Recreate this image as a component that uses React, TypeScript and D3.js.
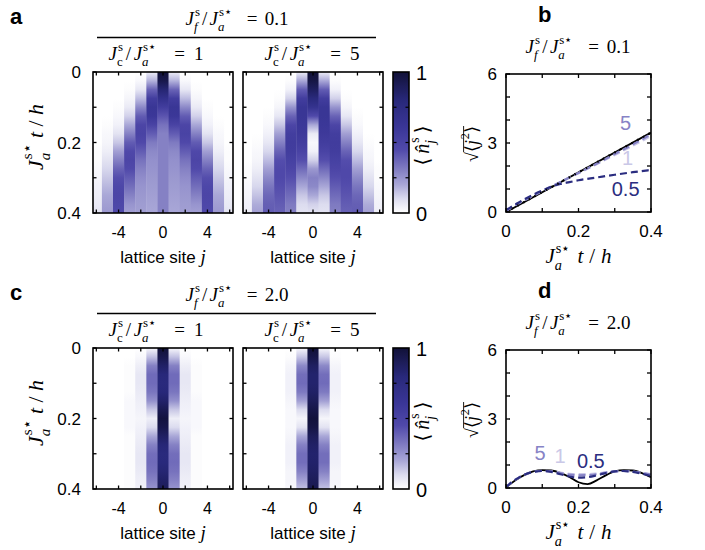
import React from "react";
import * as d3 from "d3";

// ---- data ----
const SITES = [-6, -5, -4, -3, -2, -1, 0, 1, 2, 3, 4, 5, 6];
const MAP_TIMES = [0, 0.025, 0.05, 0.075, 0.1, 0.125, 0.15, 0.175, 0.2, 0.225, 0.25, 0.275, 0.3, 0.325, 0.35, 0.375, 0.4];

// rows = time, columns = |j| = 0..6 (the maps are mirror symmetric)
const mapA1 = [
  [1.0, 0.05, 0.0, 0.0, 0.0, 0.0, 0.0],
  [0.94, 0.18, 0.02, 0.0, 0.0, 0.0, 0.0],
  [0.82, 0.38, 0.07, 0.01, 0.0, 0.0, 0.0],
  [0.68, 0.55, 0.16, 0.03, 0.0, 0.0, 0.0],
  [0.55, 0.62, 0.28, 0.06, 0.01, 0.0, 0.0],
  [0.42, 0.6, 0.4, 0.12, 0.02, 0.0, 0.0],
  [0.34, 0.5, 0.48, 0.2, 0.04, 0.01, 0.0],
  [0.3, 0.4, 0.5, 0.3, 0.08, 0.02, 0.0],
  [0.3, 0.32, 0.46, 0.4, 0.14, 0.03, 0.0],
  [0.3, 0.28, 0.4, 0.46, 0.22, 0.05, 0.01],
  [0.3, 0.26, 0.34, 0.48, 0.3, 0.08, 0.01],
  [0.3, 0.25, 0.3, 0.45, 0.38, 0.11, 0.02],
  [0.3, 0.24, 0.27, 0.4, 0.44, 0.14, 0.03],
  [0.3, 0.23, 0.25, 0.35, 0.47, 0.17, 0.04],
  [0.3, 0.22, 0.24, 0.3, 0.48, 0.2, 0.05],
  [0.3, 0.21, 0.23, 0.25, 0.47, 0.22, 0.06],
  [0.3, 0.2, 0.22, 0.22, 0.45, 0.24, 0.08],
];
const mapA2 = [
  [1.0, 0.05, 0.0, 0.0, 0.0, 0.0, 0.0],
  [0.96, 0.2, 0.01, 0.0, 0.0, 0.0, 0.0],
  [0.88, 0.4, 0.04, 0.0, 0.0, 0.0, 0.0],
  [0.78, 0.55, 0.12, 0.01, 0.0, 0.0, 0.0],
  [0.66, 0.62, 0.25, 0.03, 0.0, 0.0, 0.0],
  [0.45, 0.62, 0.38, 0.07, 0.01, 0.0, 0.0],
  [0.2, 0.6, 0.48, 0.14, 0.02, 0.0, 0.0],
  [0.06, 0.58, 0.54, 0.22, 0.04, 0.0, 0.0],
  [0.02, 0.55, 0.56, 0.3, 0.07, 0.01, 0.0],
  [0.04, 0.5, 0.55, 0.38, 0.11, 0.02, 0.0],
  [0.12, 0.44, 0.52, 0.44, 0.16, 0.03, 0.0],
  [0.24, 0.36, 0.48, 0.46, 0.22, 0.05, 0.01],
  [0.3, 0.28, 0.44, 0.46, 0.28, 0.08, 0.01],
  [0.28, 0.2, 0.4, 0.44, 0.33, 0.11, 0.02],
  [0.2, 0.14, 0.36, 0.42, 0.37, 0.15, 0.03],
  [0.12, 0.1, 0.32, 0.4, 0.39, 0.19, 0.04],
  [0.08, 0.08, 0.3, 0.38, 0.4, 0.22, 0.05],
];
const mapC1 = [
  [1.0, 0.02, 0.0, 0.0, 0.0, 0.0, 0.0],
  [0.94, 0.15, 0.02, 0.0, 0.0, 0.0, 0.0],
  [0.86, 0.3, 0.05, 0.01, 0.0, 0.0, 0.0],
  [0.8, 0.36, 0.07, 0.01, 0.0, 0.0, 0.0],
  [0.78, 0.36, 0.07, 0.01, 0.0, 0.0, 0.0],
  [0.8, 0.33, 0.06, 0.01, 0.0, 0.0, 0.0],
  [0.85, 0.26, 0.05, 0.02, 0.0, 0.0, 0.0],
  [0.92, 0.14, 0.04, 0.02, 0.0, 0.0, 0.0],
  [0.98, 0.05, 0.03, 0.02, 0.0, 0.0, 0.0],
  [0.94, 0.1, 0.04, 0.02, 0.0, 0.0, 0.0],
  [0.87, 0.2, 0.05, 0.01, 0.0, 0.0, 0.0],
  [0.81, 0.3, 0.06, 0.01, 0.0, 0.0, 0.0],
  [0.78, 0.35, 0.07, 0.01, 0.0, 0.0, 0.0],
  [0.79, 0.36, 0.07, 0.01, 0.0, 0.0, 0.0],
  [0.82, 0.34, 0.06, 0.01, 0.0, 0.0, 0.0],
  [0.86, 0.3, 0.05, 0.01, 0.0, 0.0, 0.0],
  [0.9, 0.25, 0.04, 0.01, 0.0, 0.0, 0.0],
];
const mapC2 = [
  [1.0, 0.02, 0.0, 0.0, 0.0, 0.0, 0.0],
  [0.95, 0.14, 0.01, 0.0, 0.0, 0.0, 0.0],
  [0.88, 0.28, 0.03, 0.0, 0.0, 0.0, 0.0],
  [0.84, 0.35, 0.04, 0.0, 0.0, 0.0, 0.0],
  [0.84, 0.36, 0.04, 0.0, 0.0, 0.0, 0.0],
  [0.86, 0.32, 0.04, 0.0, 0.0, 0.0, 0.0],
  [0.9, 0.22, 0.03, 0.0, 0.0, 0.0, 0.0],
  [0.95, 0.1, 0.02, 0.0, 0.0, 0.0, 0.0],
  [0.99, 0.03, 0.02, 0.0, 0.0, 0.0, 0.0],
  [0.96, 0.08, 0.02, 0.0, 0.0, 0.0, 0.0],
  [0.9, 0.2, 0.03, 0.0, 0.0, 0.0, 0.0],
  [0.86, 0.3, 0.04, 0.0, 0.0, 0.0, 0.0],
  [0.84, 0.35, 0.04, 0.0, 0.0, 0.0, 0.0],
  [0.85, 0.35, 0.04, 0.0, 0.0, 0.0, 0.0],
  [0.87, 0.3, 0.03, 0.0, 0.0, 0.0, 0.0],
  [0.9, 0.22, 0.03, 0.0, 0.0, 0.0, 0.0],
  [0.93, 0.15, 0.02, 0.0, 0.0, 0.0, 0.0],
];

// spreading curves, panel b (J_f = 0.1)
const bTimes = [0, 0.025, 0.05, 0.075, 0.1, 0.125, 0.15, 0.175, 0.2, 0.25, 0.3, 0.35, 0.4];
const bBallisticT = [0, 0.4];
const bBallistic = [0.0, 3.45];
const bJc5 = [0.05, 0.28, 0.5, 0.7, 0.9, 1.1, 1.3, 1.5, 1.7, 2.1, 2.52, 2.94, 3.38];
const bJc1 = [0.05, 0.3, 0.52, 0.72, 0.92, 1.12, 1.3, 1.5, 1.68, 2.08, 2.48, 2.88, 3.3];
const bJc05 = [0.08, 0.32, 0.55, 0.75, 0.93, 1.1, 1.22, 1.3, 1.38, 1.5, 1.62, 1.73, 1.83];

// panel d (J_f = 2.0)
const dTimes = [0, 0.025, 0.05, 0.075, 0.1, 0.125, 0.15, 0.175, 0.2, 0.225, 0.25, 0.275, 0.3, 0.325, 0.35, 0.375, 0.4];
const dRef = [0.02, 0.33, 0.56, 0.72, 0.78, 0.76, 0.66, 0.48, 0.25, 0.17, 0.33, 0.55, 0.72, 0.78, 0.76, 0.65, 0.47];
const dJc5 = [0.05, 0.35, 0.57, 0.7, 0.75, 0.72, 0.65, 0.58, 0.55, 0.56, 0.6, 0.67, 0.72, 0.74, 0.72, 0.66, 0.58];
const dJc1 = [0.05, 0.35, 0.57, 0.7, 0.74, 0.72, 0.67, 0.62, 0.6, 0.6, 0.63, 0.68, 0.72, 0.73, 0.71, 0.66, 0.6];
const dJc05 = [0.05, 0.35, 0.57, 0.7, 0.74, 0.7, 0.6, 0.5, 0.45, 0.47, 0.55, 0.65, 0.72, 0.74, 0.7, 0.62, 0.52];

const mapXTicks = [-6, -4, -2, 0, 2, 4, 6];
const mapXLabels = [-4, 0, 4];
const timeTicks = [0, 0.1, 0.2, 0.3, 0.4];
const timeLabels = [0, 0.2, 0.4];
const spreadTicks = [0, 1, 2, 3, 4, 5, 6];
const spreadLabels = [0, 3, 6];
const cbTicks = [0.25, 0.5, 0.75];

// ---- style ----
const SANS = "'Liberation Sans', Arial, Helvetica, sans-serif";
const SERIF = "'Liberation Serif', 'DejaVu Serif', serif";
const NAVY = "#2b2d80";
const PURPLE = "#8783c6";
const LAVENDER = "#cac8e7";

const color = d3
  .scaleLinear<string>()
  .domain([0, 0.1, 0.2, 0.3, 0.45, 0.6, 0.8, 1])
  .range(["#ffffff", "#dcdcef", "#a9a7d7", "#8581c4", "#5049aa", "#3b3798", "#28287a", "#111138"])
  .interpolate(d3.interpolateRgb)
  .clamp(true);

let ctx: CanvasRenderingContext2D | null = null;
function measure(s: string, size: number, italic?: boolean) {
  if (!ctx) ctx = document.createElement("canvas").getContext("2d");
  ctx!.font = `${italic ? "italic " : ""}${size}px ${SERIF}`;
  return ctx!.measureText(s).width;
}

type Tok = { b: string; it?: boolean; sup?: string; sub?: string; subIt?: boolean; g?: number };

// small TeX-like layout: base glyph + stacked super/subscripts, gaps stretched to a target width
function MathText({ x, y, size, toks, anchor = "middle", rotate = 0, fill = "#000", overline, width }: any) {
  const sm = size * 0.68;
  const list = toks as Tok[];
  const widths = list.map((tk) => {
    const wb = measure(tk.b, size, tk.it);
    let ws = 0;
    if (tk.sup) ws = Math.max(ws, measure(tk.sup, sm) + (tk.it ? size * 0.05 : 0));
    if (tk.sub) ws = Math.max(ws, measure(tk.sub, sm, tk.subIt));
    return { wb, ws };
  });
  const natural = d3.sum(widths, (w) => w.wb + w.ws);
  const weights = list.map((tk, i) => (i < list.length - 1 ? tk.g ?? 1 : 0));
  const extra = width ? Math.max(0, width - natural) : 0;
  const wsum = d3.sum(weights) || 1;
  let cx = 0;
  let olStart = 0;
  const parts: any[] = [];
  list.forEach((tk, i) => {
    if (overline === i) olStart = cx;
    const { wb, ws } = widths[i];
    parts.push(
      <text key={i + "b"} x={cx} y={0} fontSize={size} fontStyle={tk.it ? "italic" : "normal"}>
        {tk.b}
      </text>
    );
    if (tk.sup) {
      parts.push(
        <text key={i + "p"} x={cx + wb + (tk.it ? size * 0.05 : 0)} y={-size * 0.5} fontSize={sm}>
          {tk.sup}
        </text>
      );
    }
    if (tk.sub) {
      parts.push(
        <text key={i + "s"} x={cx + wb} y={size * 0.32} fontSize={sm} fontStyle={tk.subIt ? "italic" : "normal"}>
          {tk.sub}
        </text>
      );
    }
    cx += wb + ws + (extra * weights[i]) / wsum;
  });
  if (overline !== undefined) {
    parts.push(<line key="ol" x1={olStart} x2={cx} y1={-size * 0.8} y2={-size * 0.8} stroke={fill} strokeWidth={size * 0.05} />);
  }
  const off = anchor === "middle" ? -cx / 2 : anchor === "end" ? -cx : 0;
  return (
    <g transform={`translate(${x},${y}) rotate(${rotate}) translate(${off},0)`} fill={fill} fontFamily={SERIF}>
      {parts}
    </g>
  );
}

const tJ = (sub: string, sup: string, subIt = true, g = 1): Tok => ({ b: "J", it: true, sub, sup, subIt, g });
const ratioToks = (s: string, num: string, numIt: boolean): Tok[] => [
  tJ(num, "s", numIt, 0.3),
  { b: "/", g: 0.3 },
  tJ("a", "s⋆", true, 2),
  { b: "=", g: 1 },
  { b: s },
];
const timeToks: Tok[] = [tJ("a", "s⋆", true, 0.6), { b: "t", it: true, g: 0.5 }, { b: "/", g: 0.5 }, { b: "h", it: true }];
const densToks: Tok[] = [{ b: "⟨", g: 0.3 }, { b: "n̂", it: true, sup: "s", sub: "j", subIt: true, g: 0.3 }, { b: "⟩" }];
const spreadToks: Tok[] = [{ b: "√", g: 0 }, { b: "⟨" }, { b: "j", it: true, sup: "2" }, { b: "⟩" }];

// ---- components ----
function HeatMap({ id, rows, x0, x1, y0, y1, yLabels }: any) {
  const xs = d3.scaleLinear().domain([-6.3, 6.3]).range([x0, x1]);
  const ys = d3.scaleLinear().domain([0, 0.4]).range([y0, y1]);
  const tk = 3.5;
  return (
    <g>
      <defs>
        {SITES.map((j) => (
          <linearGradient key={j} id={`${id}-${j}`} x1="0" y1="0" x2="0" y2="1">
            {MAP_TIMES.map((t, i) => (
              <stop key={i} offset={t / 0.4} stopColor={color(rows[i][Math.abs(j)])} />
            ))}
          </linearGradient>
        ))}
        <clipPath id={`${id}-clip`}>
          <rect x={x0} y={y0} width={x1 - x0} height={y1 - y0} />
        </clipPath>
      </defs>
      <g clipPath={`url(#${id}-clip)`}>
        {SITES.map((j) => (
          <rect
            key={j}
            x={xs(j - 0.5)}
            y={y0}
            width={xs(j + 0.5) - xs(j - 0.5) + 0.4}
            height={y1 - y0}
            fill={`url(#${id}-${j})`}
          />
        ))}
      </g>
      <rect x={x0} y={y0} width={x1 - x0} height={y1 - y0} fill="none" stroke="#000" strokeWidth={1.6} />
      {mapXTicks.map((v) => (
        <g key={v} stroke="#000" strokeWidth={1.3}>
          <line x1={xs(v)} x2={xs(v)} y1={y1} y2={y1 - tk} />
          <line x1={xs(v)} x2={xs(v)} y1={y0} y2={y0 + tk} />
        </g>
      ))}
      {timeTicks.map((v) => (
        <g key={v} stroke="#000" strokeWidth={1.3}>
          <line x1={x0} x2={x0 + tk} y1={ys(v)} y2={ys(v)} />
          <line x1={x1} x2={x1 - tk} y1={ys(v)} y2={ys(v)} />
        </g>
      ))}
      {mapXLabels.map((v) => (
        <text key={v} x={xs(v)} y={y1 + 25} textAnchor="middle" fontFamily={SANS} fontSize={16}>
          {v < 0 ? "-" + Math.abs(v) : v}
        </text>
      ))}
      {yLabels &&
        timeLabels.map((v) => (
          <text key={v} x={x0 - 12} y={ys(v) + 6} textAnchor="end" fontFamily={SANS} fontSize={17}>
            {v}
          </text>
        ))}
      <text x={(x0 + x1) / 2} y={y1 + 50} textAnchor="middle" fontFamily={SANS} fontSize={17}>
        lattice site <tspan fontFamily={SERIF} fontStyle="italic" fontSize={19}>j</tspan>
      </text>
    </g>
  );
}

function ColorBar({ id, x0, x1, y0, y1 }: any) {
  const ys = d3.scaleLinear().domain([0, 1]).range([y1, y0]);
  const stops = d3.range(0, 1.0001, 0.05);
  return (
    <g>
      <defs>
        <linearGradient id={id} x1="0" y1="1" x2="0" y2="0">
          {stops.map((v) => (
            <stop key={v} offset={v} stopColor={color(v)} />
          ))}
        </linearGradient>
      </defs>
      <rect x={x0} y={y0} width={x1 - x0} height={y1 - y0} fill={`url(#${id})`} stroke="#000" strokeWidth={1.6} />
      {cbTicks.map((v) => (
        <g key={v} stroke="#000" strokeWidth={1.2}>
          <line x1={x0} x2={x0 + 3.5} y1={ys(v)} y2={ys(v)} />
          <line x1={x1} x2={x1 - 3.5} y1={ys(v)} y2={ys(v)} />
        </g>
      ))}
      <text x={x1 + 7} y={y0 + 8} fontFamily={SANS} fontSize={20}>1</text>
      <text x={x1 + 7} y={y1 + 8} fontFamily={SANS} fontSize={20}>0</text>
      <MathText x={x1 + 20} y={(y0 + y1) / 2 + 3} size={20} rotate={-90} toks={densToks} width={40} />
    </g>
  );
}

function SpreadPanel({ y0, y1, series, labels }: any) {
  const x0 = 506;
  const x1 = 651;
  const xs = d3.scaleLinear().domain([0, 0.4]).range([x0, x1]);
  const ys = d3.scaleLinear().domain([0, 6]).range([y1, y0]);
  const tk = 4;
  return (
    <g>
      <defs>
        <clipPath id={`sp-${y0}`}>
          <rect x={x0} y={y0} width={x1 - x0} height={y1 - y0} />
        </clipPath>
      </defs>
      <g clipPath={`url(#sp-${y0})`} fill="none">
        {series.map((s: any, i: number) => {
          const line = d3
            .line<number>()
            .x((_, k) => xs(s.t[k]))
            .y((v) => ys(v))
            .curve(d3.curveMonotoneX);
          return (
            <path key={i} d={line(s.v) || ""} stroke={s.color} strokeWidth={s.w} strokeDasharray={s.dash} />
          );
        })}
      </g>
      <rect x={x0} y={y0} width={x1 - x0} height={y1 - y0} fill="none" stroke="#000" strokeWidth={1.6} />
      {timeTicks.map((v) => (
        <g key={v} stroke="#000" strokeWidth={1.3}>
          <line x1={xs(v)} x2={xs(v)} y1={y1} y2={y1 - tk} />
          <line x1={xs(v)} x2={xs(v)} y1={y0} y2={y0 + tk} />
        </g>
      ))}
      {spreadTicks.map((v) => (
        <g key={v} stroke="#000" strokeWidth={1.3}>
          <line x1={x0} x2={x0 + tk} y1={ys(v)} y2={ys(v)} />
          <line x1={x1} x2={x1 - tk} y1={ys(v)} y2={ys(v)} />
        </g>
      ))}
      {timeLabels.map((v) => (
        <text key={v} x={xs(v)} y={y1 + 25} textAnchor="middle" fontFamily={SANS} fontSize={17}>
          {v}
        </text>
      ))}
      {spreadLabels.map((v) => (
        <text key={v} x={x0 - 9} y={ys(v) + 6} textAnchor="end" fontFamily={SANS} fontSize={17}>
          {v}
        </text>
      ))}
      {labels.map((l: any, i: number) => (
        <text key={i} x={xs(l.t)} y={ys(l.v)} textAnchor="middle" fontFamily={SANS} fontSize={20} fill={l.color}>
          {l.text}
        </text>
      ))}
      <MathText x={(x0 + x1) / 2} y={y1 + 51} size={21} toks={timeToks} width={66} />
      <MathText x={478} y={(y0 + y1) / 2 + 1} size={18} rotate={-90} toks={spreadToks} overline={1} />
    </g>
  );
}

function Block({ dy, letterL, letterR, jf, maps, spread, spreadLabels }: any) {
  return (
    <g transform={`translate(0,${dy})`}>
      <text x={10} y={24} fontFamily={SANS} fontWeight="bold" fontSize={22}>{letterL}</text>
      <text x={538} y={22} fontFamily={SANS} fontWeight="bold" fontSize={22}>{letterR}</text>
      <MathText x={237} y={25} size={19} toks={ratioToks(jf, "f", true)} width={103} />
      <line x1={97} x2={376} y1={37.5} y2={37.5} stroke="#000" strokeWidth={1.6} />
      <MathText x={156} y={60} size={19} toks={ratioToks("1", "c", false)} width={95} />
      <MathText x={312} y={60} size={19} toks={ratioToks("5", "c", false)} width={95} />
      <HeatMap id={`${letterL}1`} rows={maps[0]} x0={93} x1={233} y0={72} y1={213} yLabels />
      <HeatMap id={`${letterL}2`} rows={maps[1]} x0={243} x1={383} y0={72} y1={213} />
      <ColorBar id={`${letterL}cb`} x0={393} x1={409} y0={72} y1={213} />
      <MathText x={43} y={137} size={22} rotate={-90} toks={timeToks} width={66} />
      <MathText x={578} y={53} size={19} toks={ratioToks(jf, "f", true)} width={105} />
      <SpreadPanel y0={74} y1={212} series={spread} labels={spreadLabels} />
    </g>
  );
}

export default function App() {
  const seriesB = [
    { t: bBallisticT, v: bBallistic, color: "#000", w: 1.8 },
    { t: bTimes, v: bJc1, color: LAVENDER, w: 2.2, dash: "7 4" },
    { t: bTimes, v: bJc5, color: PURPLE, w: 2.2, dash: "7 4" },
    { t: bTimes, v: bJc05, color: NAVY, w: 2.2, dash: "7 4" },
    { t: bBallisticT, v: bBallistic, color: "#000", w: 2.2, dash: "1.5 5" },
  ];
  const labelsB = [
    { t: 0.33, v: 3.55, text: "5", color: PURPLE },
    { t: 0.335, v: 2.05, text: "1", color: LAVENDER },
    { t: 0.33, v: 0.68, text: "0.5", color: NAVY },
  ];
  const seriesD = [
    { t: dTimes, v: dRef, color: "#000", w: 1.8 },
    { t: dTimes, v: dJc1, color: LAVENDER, w: 2.2, dash: "7 4" },
    { t: dTimes, v: dJc5, color: PURPLE, w: 2.2, dash: "7 4" },
    { t: dTimes, v: dJc05, color: NAVY, w: 2.2, dash: "7 4" },
  ];
  const labelsD = [
    { t: 0.094, v: 1.22, text: "5", color: PURPLE },
    { t: 0.149, v: 1.09, text: "1", color: LAVENDER },
    { t: 0.234, v: 0.87, text: "0.5", color: NAVY },
  ];
  return (
    <svg width={705} height={550} style={{ position: "absolute", left: 0, top: 0, background: "#fff" }}>
      <Block dy={0} letterL="a" letterR="b" jf="0.1" maps={[mapA1, mapA2]} spread={seriesB} spreadLabels={labelsB} />
      <Block dy={276} letterL="c" letterR="d" jf="2.0" maps={[mapC1, mapC2]} spread={seriesD} spreadLabels={labelsD} />
    </svg>
  );
}
